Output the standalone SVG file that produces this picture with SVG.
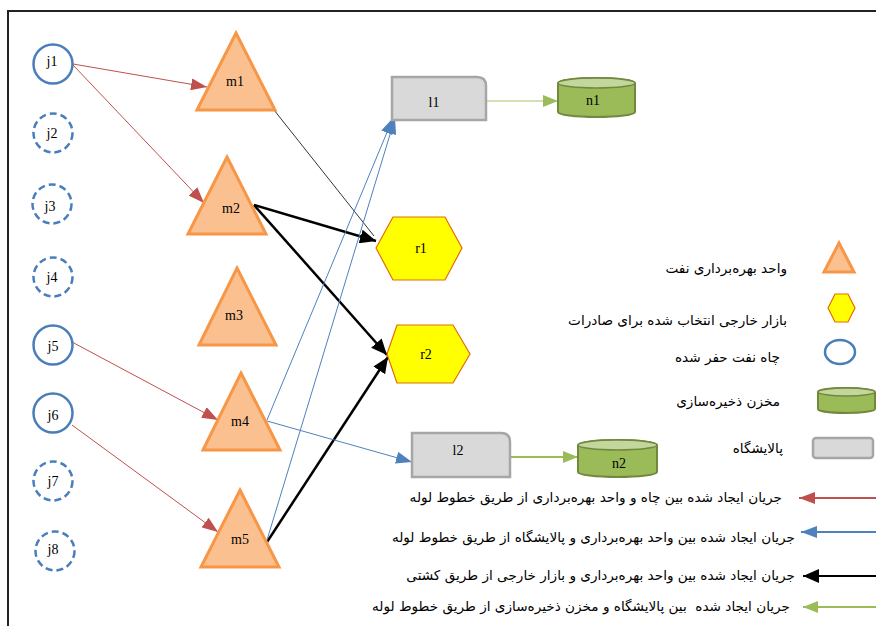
<svg xmlns="http://www.w3.org/2000/svg" width="876" height="626" viewBox="0 0 876 626">
<style>
.bg{fill:#ffffff}
.frame{stroke:#222;stroke-width:2;fill:none}
.well{fill:none;stroke:#4a7ebb;stroke-width:2.5}
.dash{stroke-dasharray:7 4}
.tri{fill:#fac090;stroke:#f79646;stroke-width:3;stroke-linejoin:miter}
.ref{fill:#d9d9d9;stroke:#a6a6a6;stroke-width:2.5}
.cyl{fill:#9bbb59;stroke:#71893f;stroke-width:2}
.cyltop{fill:#c3d69b;stroke:#71893f;stroke-width:1.5}
.hex{fill:#ffff00;stroke:#e36c09;stroke-width:1.2}
.lbl{font-family:"Liberation Serif","Times New Roman",serif;font-size:14px;fill:#000;text-anchor:middle;dominant-baseline:central}
.fa{font-family:"DejaVu Sans","Noto Sans",sans-serif;font-size:13.6px;fill:#000;text-anchor:end;dominant-baseline:central;white-space:pre}
.red{stroke:#c0504d;stroke-width:1;fill:none}
.blue{stroke:#4f81bd;stroke-width:1;fill:none}
.blk{stroke:#000;stroke-width:2.5;fill:none}
.blkt{stroke:#000;stroke-width:0.8;fill:none}
.grn{stroke:#9bbb59;stroke-width:2;fill:none}
.grnl{stroke:#c3d69b;stroke-width:1.5;fill:none}
</style>
<defs>
<marker id="ar" viewBox="0 0 16 12" refX="16" refY="6" markerWidth="16" markerHeight="12" markerUnits="userSpaceOnUse" orient="auto"><path d="M0,0 L16,6 L0,12 z" fill="#c0504d"/></marker>
<marker id="ab" viewBox="0 0 16 12" refX="16" refY="6" markerWidth="16" markerHeight="12" markerUnits="userSpaceOnUse" orient="auto"><path d="M0,0 L16,6 L0,12 z" fill="#4f81bd"/></marker>
<marker id="ak" viewBox="0 0 16 14" refX="16" refY="7" markerWidth="16" markerHeight="14" markerUnits="userSpaceOnUse" orient="auto"><path d="M0,0 L16,7 L0,14 z" fill="#000"/></marker>
<marker id="ag" viewBox="0 0 15 12" refX="15" refY="6" markerWidth="15" markerHeight="12" markerUnits="userSpaceOnUse" orient="auto"><path d="M0,0 L15,6 L0,12 z" fill="#9bbb59"/></marker>
</defs>
<rect class="bg" x="0" y="0" width="876" height="626"/>
<path class="frame" d="M8,626 V11 H876"/>

<g id="connectors">
<line class="red" x1="73" y1="64" x2="207" y2="87" marker-end="url(#ar)"/>
<line class="red" x1="73" y1="65" x2="204" y2="203" marker-end="url(#ar)"/>
<line class="red" x1="72" y1="342" x2="218" y2="420" marker-end="url(#ar)"/>
<line class="red" x1="72" y1="425" x2="218" y2="532" marker-end="url(#ar)"/>
<line class="blkt" x1="274" y1="110" x2="374" y2="236"/>
<line class="blk" x1="254" y1="205" x2="376" y2="241" marker-end="url(#ak)"/>
<line class="blk" x1="254" y1="205" x2="387" y2="355" marker-end="url(#ak)"/>
<line class="blk" x1="267" y1="542" x2="388" y2="357" marker-end="url(#ak)"/>
<line class="blue" x1="267" y1="420" x2="393" y2="118" marker-end="url(#ab)"/>
<line class="blue" x1="267" y1="540" x2="395" y2="118" marker-end="url(#ab)"/>
<line class="blue" x1="267" y1="421" x2="412" y2="462" marker-end="url(#ab)"/>
<line class="grnl" x1="487" y1="101" x2="558" y2="101" marker-end="url(#ag)"/>
<line class="grn" x1="510" y1="457" x2="578" y2="457" marker-end="url(#ag)"/>
</g>

<g id="j1"><circle class="well" cx="53" cy="64" r="19.5"/><text class="lbl" x="52" y="61">j1</text></g>
<g id="j2"><circle class="well dash" cx="53" cy="133" r="19.5"/><text class="lbl" x="52" y="133">j2</text></g>
<g id="j3"><circle class="well dash" cx="52" cy="204" r="19.5"/><text class="lbl" x="50" y="206">j3</text></g>
<g id="j4"><circle class="well dash" cx="53" cy="277" r="19.5"/><text class="lbl" x="52" y="277">j4</text></g>
<g id="j5"><circle class="well" cx="53" cy="345" r="19.5"/><text class="lbl" x="53" y="346">j5</text></g>
<g id="j6"><circle class="well" cx="53" cy="413" r="19.5"/><text class="lbl" x="53" y="415">j6</text></g>
<g id="j7"><circle class="well dash" cx="53" cy="481" r="19.5"/><text class="lbl" x="53" y="481">j7</text></g>
<g id="j8"><circle class="well dash" cx="55" cy="551" r="19.5"/><text class="lbl" x="53" y="549">j8</text></g>

<g id="m1"><polygon class="tri" points="236,33 275,110 197,110"/><text class="lbl" x="235" y="81">m1</text></g>
<g id="m2"><polygon class="tri" points="227,157 266,234 188,234"/><text class="lbl" x="231" y="208">m2</text></g>
<g id="m3"><polygon class="tri" points="237,268 276,345 199,345"/><text class="lbl" x="234" y="315">m3</text></g>
<g id="m4"><polygon class="tri" points="241,373 280,450 203,450"/><text class="lbl" x="240" y="421">m4</text></g>
<g id="m5"><polygon class="tri" points="240,490 279,567 201,567"/><text class="lbl" x="240" y="539">m5</text></g>

<g id="l1"><path class="ref" d="M392,77 H477 Q486,77 486,86 V120 H392 Z"/><text class="lbl" x="434" y="102">l1</text></g>
<g id="l2"><path class="ref" d="M412,433 H501 Q510,433 510,442 V477 H412 Z"/><text class="lbl" x="458" y="450">l2</text></g>

<g id="n1"><path class="cyl" d="M558,83 A38.5,5 0 0 1 635,83 V112 A38.5,5 0 0 1 558,112 Z"/><ellipse class="cyltop" cx="596.5" cy="83" rx="38.5" ry="5"/><text class="lbl" x="593" y="100">n1</text></g>
<g id="n2"><path class="cyl" d="M578,445 A39.5,5 0 0 1 657,445 V472 A39.5,5 0 0 1 578,472 Z"/><ellipse class="cyltop" cx="617.5" cy="445" rx="39.5" ry="5"/><text class="lbl" x="619" y="463">n2</text></g>

<g id="r1"><polygon class="hex" points="376,248 393,217 445,217 462,248 445,280 393,280"/><text class="lbl" x="421" y="248">r1</text></g>
<g id="r2"><polygon class="hex" points="387,354 397,325 453,325 470,354 453,383 397,383"/><text class="lbl" x="426" y="354">r2</text></g>

<g id="legend">
<polygon class="tri" points="839,243 854,272 824,272"/>
<text class="fa" x="787" y="268">واحد بهره&#8204;برداری نفت</text>
<polygon class="hex" points="828,308 835,294 848,294 855,308 848,322 835,322"/>
<text class="fa" x="787" y="320">بازار خارجی انتخاب شده برای صادرات</text>
<ellipse class="well" cx="840" cy="352" rx="15" ry="12"/>
<text class="fa" x="780" y="357">چاه نفت حفر شده</text>
<path class="cyl" d="M818,392 A28.5,4 0 0 1 875,392 V409 A28.5,4 0 0 1 818,409 Z"/><ellipse class="cyltop" cx="846.5" cy="392" rx="28.5" ry="4"/>
<text class="fa" x="780" y="401">مخزن ذخیره&#8204;سازی</text>
<rect class="ref" x="813" y="438" width="60" height="20" rx="3"/>
<text class="fa" x="783" y="448">پالایشگاه</text>
<line class="red" x1="876" y1="498" x2="799" y2="498" style="stroke-width:2" marker-end="url(#ar)"/>
<text class="fa" x="782" y="497">جریان ایجاد شده بین چاه و واحد بهره&#8204;برداری از طریق خطوط لوله</text>
<line class="blue" x1="876" y1="532" x2="801" y2="532" style="stroke-width:2" marker-end="url(#ab)"/>
<text class="fa" x="795" y="537">جریان ایجاد شده بین واحد بهره&#8204;برداری و پالایشگاه از طریق خطوط لوله</text>
<line x1="876" y1="576" x2="803" y2="576" style="stroke:#000;stroke-width:2" marker-end="url(#ak)"/>
<text class="fa" x="795" y="575">جریان ایجاد شده بین واحد بهره&#8204;برداری و بازار خارجی از طریق کشتی</text>
<line class="grn" x1="876" y1="607" x2="803" y2="607" marker-end="url(#ag)"/>
<text class="fa" x="790" y="606">جریان ایجاد شده  بین پالایشگاه و مخزن ذخیره&#8204;سازی از طریق خطوط لوله</text>
</g>
</svg>
